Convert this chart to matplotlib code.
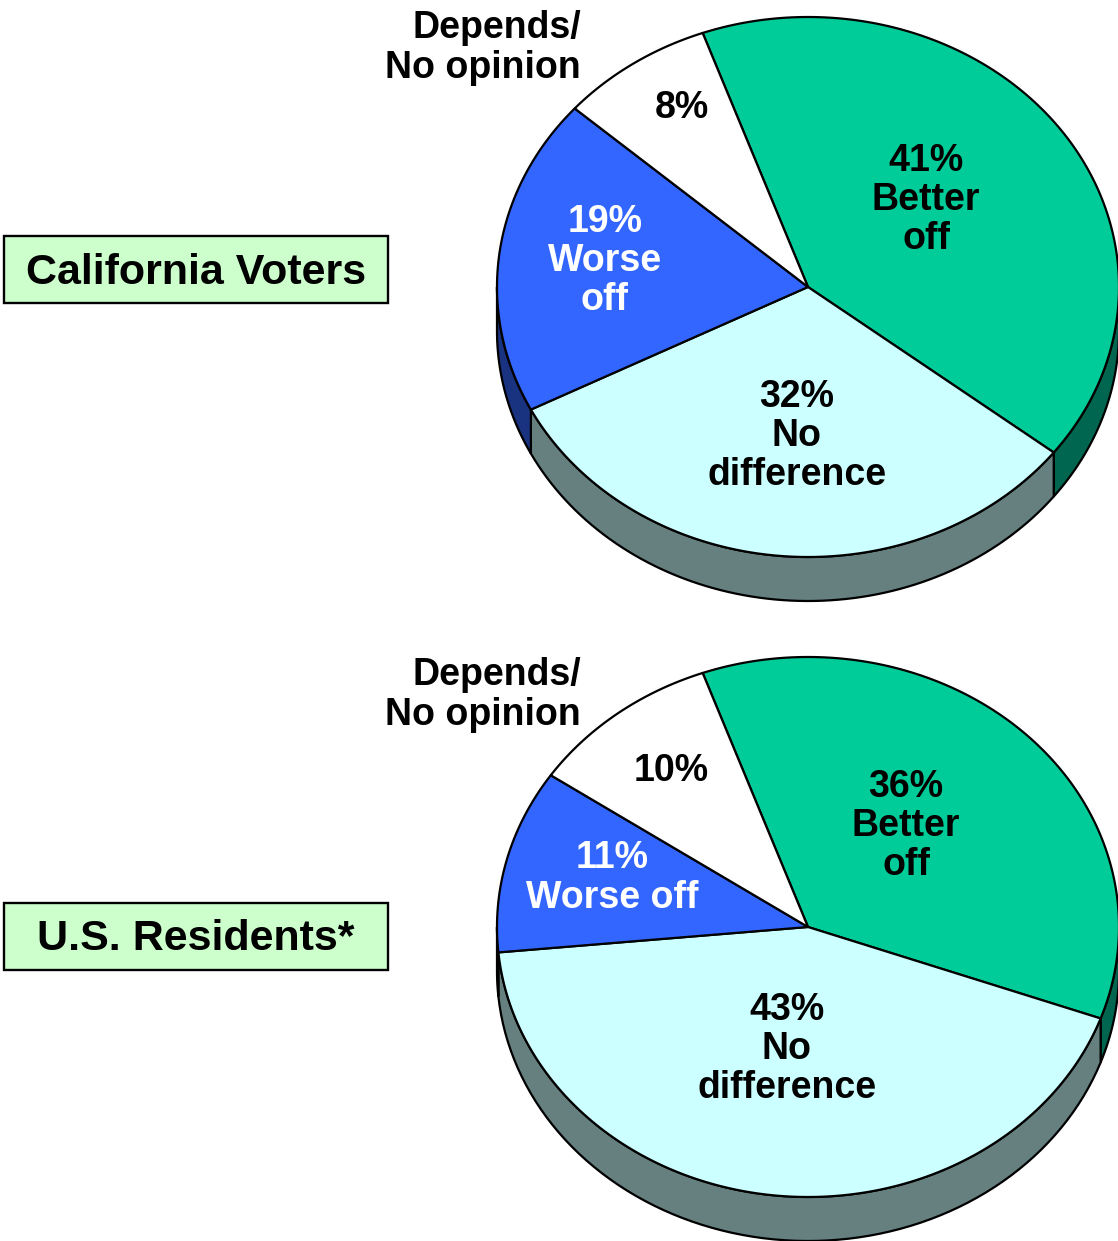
import numpy as np
import matplotlib
matplotlib.use('Agg')
import matplotlib.pyplot as plt
from matplotlib.patches import Rectangle

plt.rcParams['font.family'] = ['Liberation Sans', 'DejaVu Sans']

# share of answers, clockwise from the top left edge of "Better off"
categories = ['Better off', 'No difference', 'Worse off', 'Depends/No opinion']
ca_values = [41, 32, 19, 8]
us_values = [36, 43, 11, 10]

top_colors = ['#00CC99', '#CCFFFF', '#3366FF', '#FFFFFF']
side_colors = ['#006650', '#668080', '#1A3380', '#808080']


def pie_xy(ang, cx, cy):
    a = np.radians(ang)
    return cx + 311 * np.cos(a), cy - 270 * np.sin(a)


def draw_pie(ax, values, cy, start=109.8):
    cx = 808
    depth = 44
    # angle limits of each slice (clockwise, so going down)
    edges = start - np.cumsum([0] + values) * 3.6

    # side wall, only the front half can be seen
    for i in range(len(values)):
        hi, lo = edges[i], edges[i + 1]
        for turn in (0, -360):
            a = max(lo, -180 + turn)
            b = min(hi, 0 + turn)
            if b <= a:
                continue
            t = np.linspace(a, b, 80)
            x, y = pie_xy(t, cx, cy)
            ax.fill(np.r_[x, x[::-1]], np.r_[y, y[::-1] + depth],
                    fc=side_colors[i], ec='black', lw=1.6, zorder=2)

    # top face
    for i in range(len(values)):
        t = np.linspace(edges[i], edges[i + 1], 150)
        x, y = pie_xy(t, cx, cy)
        ax.fill(np.r_[cx, x], np.r_[cy, y], fc=top_colors[i], ec='black',
                lw=1.6, joinstyle='round', zorder=3)


def label(ax, x, y, s, color='black', ha='center'):
    ax.text(x, y + 3, s, color=color, ha=ha, va='center', fontsize=27,
            fontweight='bold', linespacing=1.12, zorder=5)


def box(ax, x, y, w, h, s):
    ax.add_patch(Rectangle((x, y), w, h, fc='#CCFFCC', ec='black', lw=1.7, zorder=3))
    ax.text(x + w / 2, y + h / 2 + 3, s, ha='center', va='center', fontsize=31,
            fontweight='bold', zorder=5)


fig = plt.figure(figsize=(11.18, 12.41), dpi=100)
ax = fig.add_axes([0, 0, 1, 1])
ax.set_xlim(0, 1118)
ax.set_ylim(1241, 0)
ax.axis('off')

draw_pie(ax, ca_values, 287)
draw_pie(ax, us_values, 927)

box(ax, 4, 236, 384, 67, 'California Voters')
box(ax, 4, 903, 384, 67, 'U.S. Residents*')

# California labels
label(ax, 581, 45, 'Depends/\nNo opinion', ha='right')
label(ax, 682, 105, f'{ca_values[3]}%')
label(ax, 926, 197, f'{ca_values[0]}%\nBetter\noff')
label(ax, 797, 433, f'{ca_values[1]}%\nNo\ndifference')
label(ax, 605, 258, f'{ca_values[2]}%\nWorse\noff', color='white')

# U.S. labels
label(ax, 581, 692, 'Depends/\nNo opinion', ha='right')
label(ax, 671, 768, f'{us_values[3]}%')
label(ax, 906, 823, f'{us_values[0]}%\nBetter\noff')
label(ax, 787, 1046, f'{us_values[1]}%\nNo\ndifference')
label(ax, 612, 875, f'{us_values[2]}%\nWorse off', color='white')

fig.savefig('out.png', dpi=100)
